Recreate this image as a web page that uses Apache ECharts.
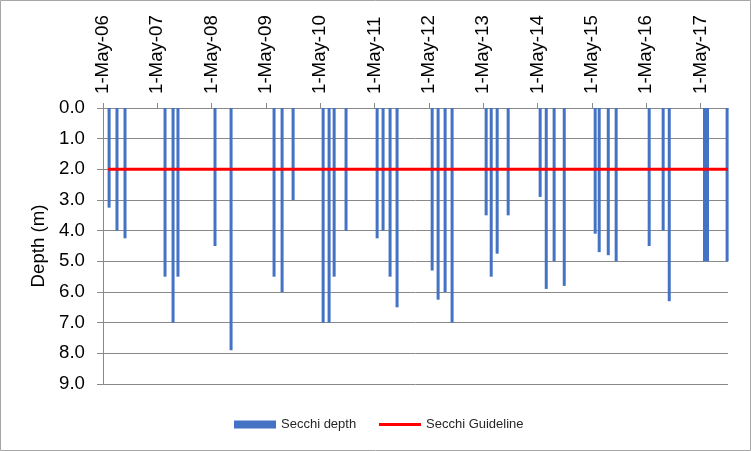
<!DOCTYPE html>
<html>
<head>
<meta charset="utf-8">
<script src="https://cdn.jsdelivr.net/npm/echarts@6/dist/echarts.min.js"></script>
<style>
html,body{margin:0;padding:0;background:#fff;}
#c{width:751px;height:451px;}
</style>
</head>
<body>
<div id="c"></div>
<script>
const sampleDates = ['2006-06-11','2006-08-03','2006-09-26','2007-06-22','2007-08-15','2007-09-17',
  '2008-05-23','2008-09-08','2009-06-24','2009-08-17','2009-10-30','2010-05-20','2010-06-29',
  '2010-08-02','2010-10-21','2011-05-18','2011-06-27','2011-08-13','2011-09-29','2012-05-22',
  '2012-07-01','2012-08-17','2012-10-03','2013-05-20','2013-06-23','2013-08-02','2013-10-15',
  '2014-05-18','2014-06-28','2014-08-20','2014-10-27','2015-05-23','2015-06-19','2015-08-19',
  '2015-10-11','2016-05-20','2016-08-22','2016-10-02','2017-05-27','2017-06-16','2017-10-26'];
const secchiDepth = [3.25,4.0,4.25,5.5,7.0,5.5,4.5,7.9,5.5,6.0,3.0,7.0,7.0,5.5,4.0,4.25,4.0,5.5,6.5,5.3,
  6.25,6.0,7.0,3.5,5.5,4.75,3.5,2.9,5.9,5.0,5.8,4.1,4.7,4.8,5.0,4.5,4.0,6.3,5.0,5.0,5.0];
const guidelineDates = ['2006-06-04','2017-11-01'];
const guidelineValues = [2.0, 2.0];
const tickDates = ['2006-05-01','2007-05-01','2008-05-01','2009-05-01','2010-05-01','2011-05-01',
  '2012-05-01','2013-05-01','2014-05-01','2015-05-01','2016-05-01','2017-05-01'];
const tickLabels = ['1-May-06','1-May-07','1-May-08','1-May-09','1-May-10','1-May-11',
  '1-May-12','1-May-13','1-May-14','1-May-15','1-May-16','1-May-17'];
const axisStart = '2006-05-01';
const axisEnd = '2017-11-01';

// convert a date string to whole days since the axis start (UTC)
function toDay(s){const p=s.split('-').map(Number);return Math.round((Date.UTC(p[0],p[1]-1,p[2])-Date.UTC(2006,4,1))/86400000);}
const tickDays = tickDates.map(toDay);

const chart = echarts.init(document.getElementById('c'), null, {renderer:'canvas'});
const axisGray = '#898989';
const font = '"Liberation Sans", Arial, sans-serif';
chart.setOption({
  animation:false,
  backgroundColor:'#fff',
  graphic:[{type:'rect',shape:{x:0.5,y:0.5,width:750,height:450},style:{fill:'none',stroke:'#a6a6a6',lineWidth:1},silent:true,z:-10}],
  grid:{left:103,top:108,right:23,bottom:67,containLabel:false},
  xAxis:{
    type:'value', position:'top',
    min:toDay(axisStart), max:toDay(axisEnd),
    axisLine:{show:true,lineStyle:{color:axisGray,width:1}},
    axisTick:{show:true,length:5,lineStyle:{color:axisGray},customValues:tickDays},
    splitLine:{show:false},
    axisLabel:{
      customValues:tickDays, rotate:90, margin:14, color:'#000', fontFamily:font, fontSize:18.67,
      formatter:function(v){const i=tickDays.indexOf(Math.round(v));return i>=0?tickLabels[i]:'';}
    }
  },
  yAxis:{
    type:'value', inverse:true, min:0, max:9, interval:1,
    name:'Depth (m)', nameLocation:'middle', nameGap:53, nameRotate:90,
    nameTextStyle:{color:'#000',fontFamily:font,fontSize:18.67},
    axisLine:{show:true,lineStyle:{color:axisGray,width:1}},
    axisTick:{show:true,length:6,lineStyle:{color:axisGray}},
    splitLine:{show:true,lineStyle:{color:axisGray,width:1}},
    axisLabel:{margin:18,color:'#000',fontFamily:font,fontSize:18.67,formatter:function(v){return v.toFixed(1);}}
  },
  legend:[
    {data:['Secchi depth'],left:229,top:413,icon:'rect',itemWidth:42,itemHeight:8,
     textStyle:{color:'#262626',fontFamily:font,fontSize:13}},
    {data:['Secchi Guideline'],left:374,top:413,icon:'rect',itemWidth:42,itemHeight:3,
     textStyle:{color:'#262626',fontFamily:font,fontSize:13}}
  ],
  series:[
    {name:'Secchi depth',type:'bar',barWidth:3,itemStyle:{color:'#4472C4'},
     data:sampleDates.map((d,i)=>[toDay(d),secchiDepth[i]])},
    {name:'Secchi Guideline',type:'line',symbol:'none',z:5,
     lineStyle:{color:'#FF0000',width:3},itemStyle:{color:'#FF0000'},
     data:guidelineDates.map((d,i)=>[toDay(d),guidelineValues[i]])}
  ]
});
</script>
</body>
</html>
